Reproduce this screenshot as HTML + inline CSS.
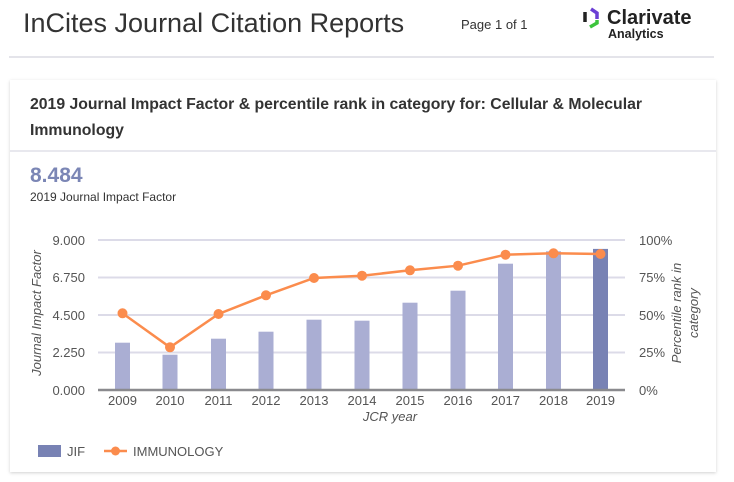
<!DOCTYPE html>
<html><head><meta charset="utf-8"><style>
html,body{margin:0;padding:0;background:#fff;width:734px;height:482px;overflow:hidden;font-family:"Liberation Sans",Arial,sans-serif}
</style></head><body>
<svg width="734" height="482" viewBox="0 0 734 482" xmlns="http://www.w3.org/2000/svg" font-family="Liberation Sans, Arial, sans-serif">
<defs><filter id="sh" x="-5%" y="-5%" width="110%" height="110%"><feDropShadow dx="0" dy="1" stdDeviation="1.5" flood-color="#000" flood-opacity="0.18"/></filter></defs>
<text x="23" y="32" font-size="27" fill="#333">InCites Journal Citation Reports</text>
<text x="461" y="29" font-size="13" fill="#333">Page 1 of 1</text>
<path d="M591 9 L597 13 L597 19" stroke="#6b3fd4" stroke-width="3.5" fill="none"/>
<path d="M585 12 L585 22" stroke="#222" stroke-width="3.5"/>
<path d="M597 20 L597 23 L590 27" stroke="#3cc43c" stroke-width="3.5" fill="none"/>
<text x="607" y="24" font-size="20" font-weight="bold" fill="#222">Clarivate</text>
<text x="608" y="38" font-size="12.5" font-weight="bold" fill="#222">Analytics</text>
<rect x="9" y="56" width="705" height="2" fill="#e4e4ea"/>
<rect x="10" y="80" width="706" height="392" fill="#fff" filter="url(#sh)"/>
<text x="30" y="109" font-size="15.8" font-weight="bold" fill="#333" textLength="612">2019 Journal Impact Factor &amp; percentile rank in category for: Cellular &amp; Molecular</text>
<text x="30" y="135" font-size="15.8" font-weight="bold" fill="#333">Immunology</text>
<rect x="10" y="150" width="706" height="2" fill="#e8e8ee"/>
<text x="30" y="182" font-size="21" font-weight="bold" fill="#7b86b5">8.484</text>
<text x="30" y="201" font-size="12" fill="#333">2019 Journal Impact Factor</text>
<g stroke="#dcdbe8" stroke-width="2">
<line x1="98" y1="240" x2="625" y2="240"/><line x1="98" y1="277.5" x2="625" y2="277.5"/><line x1="98" y1="315" x2="625" y2="315"/><line x1="98" y1="352.5" x2="625" y2="352.5"/>
</g>
<g fill="#aaaed3">
<rect x="115" y="342.7" width="15" height="47.3"/>
<rect x="162.5" y="354.7" width="15" height="35.3"/>
<rect x="211" y="338.7" width="15" height="51.3"/>
<rect x="258.5" y="331.7" width="15" height="58.3"/>
<rect x="306.5" y="319.7" width="15" height="70.3"/>
<rect x="354.5" y="320.7" width="15" height="69.3"/>
<rect x="402.5" y="302.7" width="15" height="87.3"/>
<rect x="450.5" y="290.7" width="15" height="99.3"/>
<rect x="498" y="263.7" width="15" height="126.3"/>
<rect x="546" y="251.3" width="15" height="138.7"/>
</g>
<rect x="593" y="248.9" width="15" height="141.1" fill="#7882b4"/>
<line x1="98" y1="390" x2="625" y2="390" stroke="#8a8a8e" stroke-width="2.5"/>
<polyline fill="none" stroke="#fb8c4d" stroke-width="2.5" points="122.5,313.3 170,347.3 218.5,314 266,295.3 314,278 362,275.7 410,270.3 458,265.7 505.5,254.7 553.5,253.3 600.5,254"/>
<g fill="#fb8c4d">
<circle cx="122.5" cy="313.3" r="5"/><circle cx="170" cy="347.3" r="5"/><circle cx="218.5" cy="314" r="5"/><circle cx="266" cy="295.3" r="5"/><circle cx="314" cy="278" r="5"/><circle cx="362" cy="275.7" r="5"/><circle cx="410" cy="270.3" r="5"/><circle cx="458" cy="265.7" r="5"/><circle cx="505.5" cy="254.7" r="5"/><circle cx="553.5" cy="253.3" r="5"/><circle cx="600.5" cy="254" r="5"/>
</g>
<g font-size="13" fill="#555" text-anchor="end">
<text x="85" y="245">9.000</text><text x="85" y="282">6.750</text><text x="85" y="320">4.500</text><text x="85" y="357">2.250</text><text x="85" y="395">0.000</text>
</g>
<g font-size="13" fill="#555">
<text x="639" y="245">100%</text><text x="639" y="282">75%</text><text x="639" y="320">50%</text><text x="639" y="357">25%</text><text x="639" y="395">0%</text>
</g>
<g font-size="13" fill="#555" text-anchor="middle">
<text x="122.5" y="405">2009</text><text x="170" y="405">2010</text><text x="218.5" y="405">2011</text><text x="266" y="405">2012</text><text x="314" y="405">2013</text><text x="362" y="405">2014</text><text x="410" y="405">2015</text><text x="458" y="405">2016</text><text x="505.5" y="405">2017</text><text x="553.5" y="405">2018</text><text x="600.5" y="405">2019</text>
<text x="390" y="421" font-style="italic">JCR year</text>
<text transform="translate(41,313) rotate(-90)" font-style="italic">Journal Impact Factor</text>
<text transform="translate(681,313) rotate(-90)" font-style="italic">Percentile rank in</text>
<text transform="translate(698,313) rotate(-90)" font-style="italic">category</text>
</g>
<rect x="38" y="445" width="23" height="12" fill="#7882b4"/>
<text x="67" y="456" font-size="13" fill="#555">JIF</text>
<line x1="104" y1="451" x2="127" y2="451" stroke="#fb8c4d" stroke-width="2.5"/>
<circle cx="115.5" cy="451" r="4.5" fill="#fb8c4d"/>
<text x="133" y="456" font-size="13" fill="#555">IMMUNOLOGY</text>
</svg>
</body></html>
